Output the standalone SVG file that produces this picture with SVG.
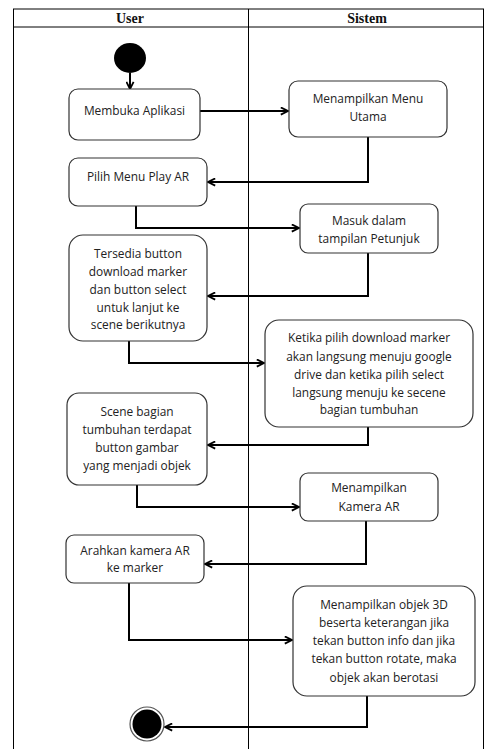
<svg xmlns="http://www.w3.org/2000/svg" width="485" height="749" viewBox="0 0 485 749">
<style>
.lane{stroke:#000;stroke-width:1;fill:none}
.hdr{font-family:"Liberation Serif",serif;font-weight:bold;font-size:14px;fill:#111;text-anchor:middle}
.box{fill:#fff;stroke:#333;stroke-width:1.2}
.t{font-family:"Open Sans","Liberation Sans",sans-serif;font-size:11.9px;fill:#222;text-anchor:middle}
.c{stroke:#000;stroke-width:2;fill:none;marker-end:url(#arr)}
</style>
<defs>
<marker id="arr" viewBox="0 0 10 10" refX="9" refY="5" markerWidth="9" markerHeight="9" markerUnits="userSpaceOnUse" orient="auto">
<path d="M1,1 L9,5 L1,9" fill="none" stroke="#000" stroke-width="2"/>
</marker>
</defs>
<rect width="485" height="749" fill="#fff"/>
<g id="swimlanes">
<line class="lane" x1="13" y1="9" x2="484" y2="9"/>
<line class="lane" x1="13" y1="27" x2="484" y2="27"/>
<line class="lane" x1="13.5" y1="9" x2="13.5" y2="749"/>
<line class="lane" x1="248.5" y1="9" x2="248.5" y2="749"/>
<line class="lane" x1="483.5" y1="9" x2="483.5" y2="749"/>
<text class="hdr" x="130" y="23">User</text>
<text class="hdr" x="367" y="23">Sistem</text>
</g>
<g id="connectors">
<path class="c" d="M130,73 V89"/>
<path class="c" d="M200,111 H288"/>
<path class="c" d="M368,137 V182 H208"/>
<path class="c" d="M136,206 V228 H299"/>
<path class="c" d="M368,253 V296 H208"/>
<path class="c" d="M129,341 V363 H264"/>
<path class="c" d="M368,427 V445 H208"/>
<path class="c" d="M137,485 V507 H299"/>
<path class="c" d="M366,521 V564 H205"/>
<path class="c" d="M129,583 V640 H292"/>
<path class="c" d="M367,696 V727 H165"/>
</g>
<g id="start"><ellipse cx="130" cy="58" rx="16" ry="15" fill="#000"/></g>
<g id="n1"><rect class="box" x="69" y="89" width="131" height="51" rx="9"/>
<text class="t" x="134.5" y="115">Membuka Aplikasi</text></g>
<g id="n2"><rect class="box" x="289" y="81" width="158" height="56" rx="9"/>
<text class="t" x="368" y="103">Menampilkan Menu</text>
<text class="t" x="368" y="121">Utama</text></g>
<g id="n3"><rect class="box" x="69" y="158" width="138" height="48" rx="9"/>
<text class="t" x="138" y="181">Pilih Menu Play AR</text></g>
<g id="n4"><rect class="box" x="300" y="204" width="138" height="49" rx="8"/>
<text class="t" x="369" y="225">Masuk dalam</text>
<text class="t" x="369" y="243">tampilan Petunjuk</text></g>
<g id="n5"><rect class="box" x="69" y="235" width="138" height="106" rx="14"/>
<text class="t" x="138" y="258">Tersedia button</text>
<text class="t" x="138" y="276">download marker</text>
<text class="t" x="138" y="294">dan button select</text>
<text class="t" x="138" y="312">untuk lanjut ke</text>
<text class="t" x="138" y="329">scene berikutnya</text></g>
<g id="n6"><rect class="box" x="265" y="320" width="208" height="107" rx="14"/>
<text class="t" x="369" y="342">Ketika pilih download marker</text>
<text class="t" x="369" y="361">akan langsung menuju google</text>
<text class="t" x="369" y="379">drive dan ketika pilih select</text>
<text class="t" x="369" y="397">langsung menuju ke secene</text>
<text class="t" x="369" y="414">bagian tumbuhan</text></g>
<g id="n7"><rect class="box" x="67" y="393" width="140" height="92" rx="12"/>
<text class="t" x="137" y="416">Scene bagian</text>
<text class="t" x="137" y="434">tumbuhan terdapat</text>
<text class="t" x="137" y="452">button gambar</text>
<text class="t" x="137" y="470">yang menjadi objek</text></g>
<g id="n8"><rect class="box" x="300" y="473" width="138" height="48" rx="8"/>
<text class="t" x="369" y="492">Menampilkan</text>
<text class="t" x="369" y="511">Kamera AR</text></g>
<g id="n9"><rect class="box" x="66" y="535" width="138" height="48" rx="8"/>
<text class="t" x="135" y="555">Arahkan kamera AR</text>
<text class="t" x="135" y="572">ke marker</text></g>
<g id="n10"><rect class="box" x="293" y="586" width="182" height="110" rx="14"/>
<text class="t" x="384" y="609">Menampilkan objek 3D</text>
<text class="t" x="384" y="627">beserta keterangan jika</text>
<text class="t" x="384" y="645">tekan button info dan jika</text>
<text class="t" x="384" y="663">tekan button rotate, maka</text>
<text class="t" x="384" y="682">objek akan berotasi</text></g>
<g id="end"><circle cx="147" cy="724" r="17" fill="#fff" stroke="#555" stroke-width="1.2"/>
<circle cx="147" cy="724" r="14.5" fill="#000"/></g>
</svg>
